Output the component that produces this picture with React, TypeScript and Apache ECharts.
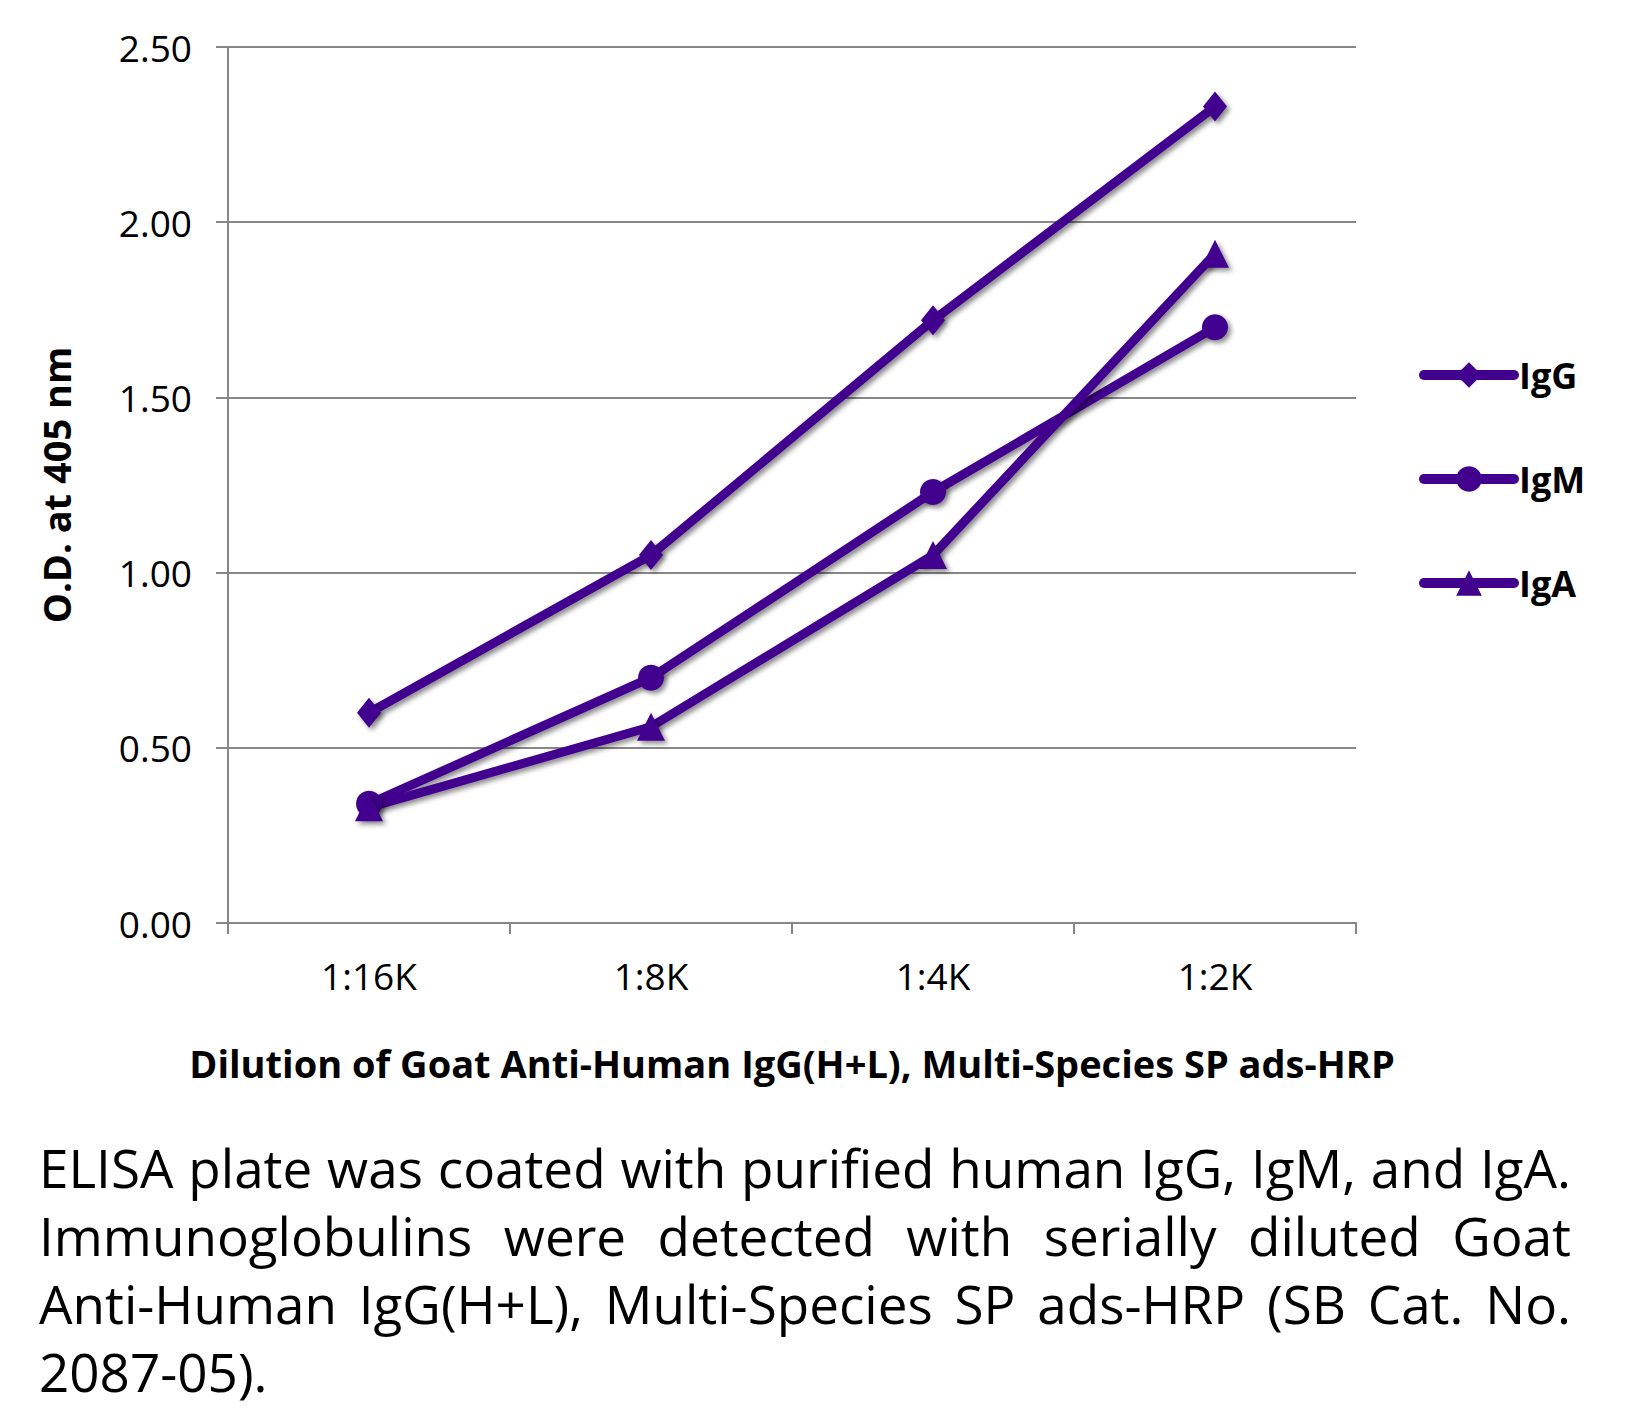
import React, { useEffect, useRef } from "react";
import * as echarts from "echarts";

const categories = ["1:16K", "1:8K", "1:4K", "1:2K"];
const seriesNames = ["IgG", "IgM", "IgA"];
const iggValues = [0.6, 1.05, 1.72, 2.33];
const igmValues = [0.34, 0.7, 1.23, 1.7];
const igaValues = [0.33, 0.56, 1.05, 1.91];
const yTicks = [0, 0.5, 1.0, 1.5, 2.0, 2.5];
const xTitle = "Dilution of Goat Anti-Human IgG(H+L), Multi-Species SP ads-HRP";
const yTitle = "O.D. at 405 nm";
const captionLines = [
  "ELISA plate was coated with purified human IgG, IgM, and IgA.",
  "Immunoglobulins were detected with serially diluted Goat",
  "Anti-Human IgG(H+L), Multi-Species SP ads-HRP (SB Cat. No.",
  "2087-05).",
];

const PURPLE = "#42008E";
const GRAY = "#878787";
const FONT = "'Open Sans', 'Noto Sans', sans-serif";

export default function App() {
  const ref = useRef<HTMLDivElement>(null);

  useEffect(() => {
    if (!ref.current) return;
    const chart = echarts.init(ref.current, undefined, { renderer: "svg" });
    const shadow = {
      shadowColor: "rgba(0,0,0,0.45)",
      shadowBlur: 5,
      shadowOffsetX: 3,
      shadowOffsetY: 3,
    };
    const mk = (name: string, data: number[], symbol: string, size: any) => ({
      name,
      type: "line",
      data,
      symbol,
      symbolSize: size,
      lineStyle: { color: PURPLE, width: 9, ...shadow },
      itemStyle: { color: PURPLE, ...shadow },
      z: 3,
    });
    chart.setOption({
      animation: false,
      backgroundColor: "#ffffff",
      textStyle: { fontFamily: FONT },
      grid: { left: 228, top: 47, width: 1128, height: 876, containLabel: false },
      legend: {
        orient: "vertical",
        left: 1414,
        top: 352,
        itemWidth: 90,
        itemHeight: 32,
        itemGap: 68,
        data: seriesNames,
        textStyle: { fontFamily: FONT, fontWeight: "bold", fontSize: 36, color: "#000" },
        lineStyle: {
          width: 10,
          cap: "round",
          shadowBlur: 0,
          shadowOffsetX: 0,
          shadowOffsetY: 0,
          shadowColor: "transparent",
        },
        itemStyle: { shadowBlur: 0, shadowOffsetX: 0, shadowOffsetY: 0, shadowColor: "transparent" },
      },
      xAxis: {
        type: "category",
        data: categories,
        boundaryGap: true,
        name: xTitle,
        nameLocation: "middle",
        nameGap: 140,
        nameTextStyle: {
          fontFamily: FONT,
          fontWeight: "bold",
          fontSize: 38,
          color: "#000",
          verticalAlign: "middle",
        },
        axisLine: { lineStyle: { color: GRAY, width: 2 } },
        axisTick: { show: true, length: 11, lineStyle: { color: GRAY, width: 2 } },
        axisLabel: { fontFamily: FONT, fontSize: 37, color: "#000", margin: 34 },
      },
      yAxis: {
        type: "value",
        min: yTicks[0],
        max: yTicks[yTicks.length - 1],
        interval: 0.5,
        name: yTitle,
        nameLocation: "middle",
        nameGap: 172,
        nameRotate: 90,
        nameTextStyle: {
          fontFamily: FONT,
          fontWeight: "bold",
          fontSize: 38,
          color: "#000",
          verticalAlign: "middle",
        },
        axisLine: { show: true, lineStyle: { color: GRAY, width: 2 } },
        axisTick: { show: true, length: 12, lineStyle: { color: GRAY, width: 2 } },
        axisLabel: {
          fontFamily: FONT,
          fontSize: 37,
          color: "#000",
          margin: 36,
          formatter: (v: number) => v.toFixed(2),
        },
        splitLine: { show: true, lineStyle: { color: GRAY, width: 2 } },
      },
      series: [
        mk(seriesNames[0], iggValues, "diamond", [24, 30]),
        mk(seriesNames[1], igmValues, "circle", 26),
        mk(seriesNames[2], igaValues, "triangle", 28),
      ],
    });
    return () => chart.dispose();
  }, []);

  const capWidth = 1532;
  return (
    <div
      style={{
        position: "absolute",
        left: 0,
        top: 0,
        width: 1626,
        height: 1411,
        background: "#fff",
        overflow: "hidden",
      }}
    >
      <div ref={ref} style={{ position: "absolute", left: 0, top: 0, width: 1626, height: 1411 }} />
      <div
        style={{
          position: "absolute",
          left: 39,
          top: 1134,
          width: capWidth,
          fontFamily: FONT,
          fontSize: 53,
          lineHeight: "68px",
          color: "#000",
        }}
      >
        {captionLines.map((line, i) => (
          <div
            key={i}
            style={{
              width: capWidth,
              whiteSpace: "nowrap",
              textAlign: i < captionLines.length - 1 ? "justify" : "left",
              textAlignLast: i < captionLines.length - 1 ? "justify" : "left",
            }}
          >
            {line}
          </div>
        ))}
      </div>
    </div>
  );
}
